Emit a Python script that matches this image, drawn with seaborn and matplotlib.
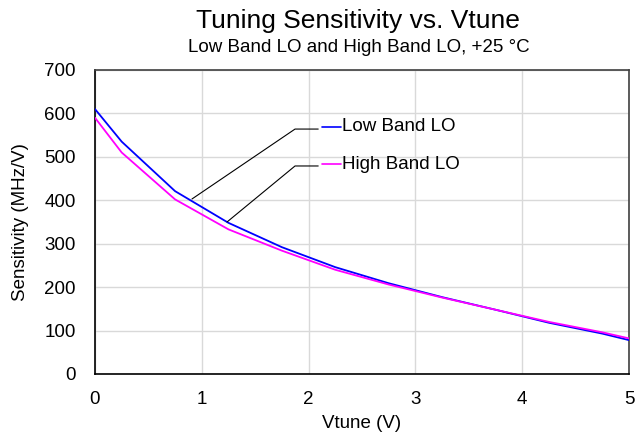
import matplotlib
matplotlib.use("Agg")
import matplotlib.pyplot as plt
import seaborn as sns
import pandas as pd

vtune = [0, 0.25, 0.75, 1.25, 1.75, 2.25, 2.75, 3.25, 3.75, 4.25, 4.75, 5.0]
low_band = [610, 535, 421, 348, 292, 246, 209, 177, 148, 118, 93, 78]
high_band = [590, 510, 402, 333, 284, 240, 206, 176, 148, 120, 96, 82]
series_names = ["Low Band LO", "High Band LO"]
x_ticks = [0, 1, 2, 3, 4, 5]
y_ticks = [0, 100, 200, 300, 400, 500, 600, 700]

df = pd.concat([
    pd.DataFrame({"Vtune": vtune, "Sens": low_band, "Series": series_names[0]}),
    pd.DataFrame({"Vtune": vtune, "Sens": high_band, "Series": series_names[1]}),
])

sns.set_theme(style="white")
plt.rcParams["font.family"] = ["Liberation Sans", "DejaVu Sans"]
plt.rcParams["text.color"] = "black"
plt.rcParams["axes.labelcolor"] = "black"

fig = plt.figure(figsize=(6.38, 4.37), dpi=100)
ax = fig.add_axes([95 / 638, 1 - 374 / 437, (629 - 95) / 638, (374 - 70) / 437])

palette = {series_names[0]: "#0000ff", series_names[1]: "#ff00ff"}
sns.lineplot(data=df, x="Vtune", y="Sens", hue="Series", palette=palette,
             linewidth=1.3, ax=ax, legend=False, zorder=3)

ax.set_xlim(0, 5)
ax.set_ylim(0, 700)
ax.set_xticks(x_ticks)
ax.set_yticks(y_ticks)
ax.grid(True, color="#d9d9d9", linewidth=1.0)
ax.set_axisbelow(True)
for s in ["left", "bottom"]:
    ax.spines[s].set_color("black")
    ax.spines[s].set_linewidth(1.2)
for s in ["top", "right"]:
    ax.spines[s].set_color("#404040")
    ax.spines[s].set_linewidth(1.2)
ax.tick_params(axis="both", labelsize=13.5, length=0, colors="black")
ax.tick_params(axis="x", pad=12)
ax.tick_params(axis="y", pad=14)
ax.set_xlabel("Vtune (V)", fontsize=13.5, va="center", color="black")
ax.set_ylabel("Sensitivity (MHz/V)", fontsize=13.5, va="center", color="black")
ax.xaxis.set_label_coords(0.5, (374 - 424) / 304)
ax.yaxis.set_label_coords((21 - 95) / 534, 0.5)

# callout legend
callouts = [
    (series_names[0], (0.908, 403), (1.873, 564), 569, "#0000ff"),
    (series_names[1], (1.236, 350), (1.873, 479), 483, "#ff00ff"),
]
for name, p0, p1, ytxt, col in callouts:
    ax.plot([p0[0], p1[0], 2.09], [p0[1], p1[1], p1[1]], color="black",
            linewidth=0.8, zorder=4)
    ax.plot([2.126, 2.303], [ytxt, ytxt], color=col, linewidth=1.2, zorder=4)
    ax.text(2.315, ytxt, name, fontsize=13.5, va="center", ha="left",
            color="black", zorder=4)

fig.text(358 / 638, 1 - 21 / 437, "Tuning Sensitivity vs. Vtune", fontsize=19,
         ha="center", va="center", color="black")
fig.text(359 / 638, 1 - 48 / 437, "Low Band LO and High Band LO, +25 °C",
         fontsize=13.5, ha="center", va="center", color="black")

fig.savefig("out.png", dpi=100)
